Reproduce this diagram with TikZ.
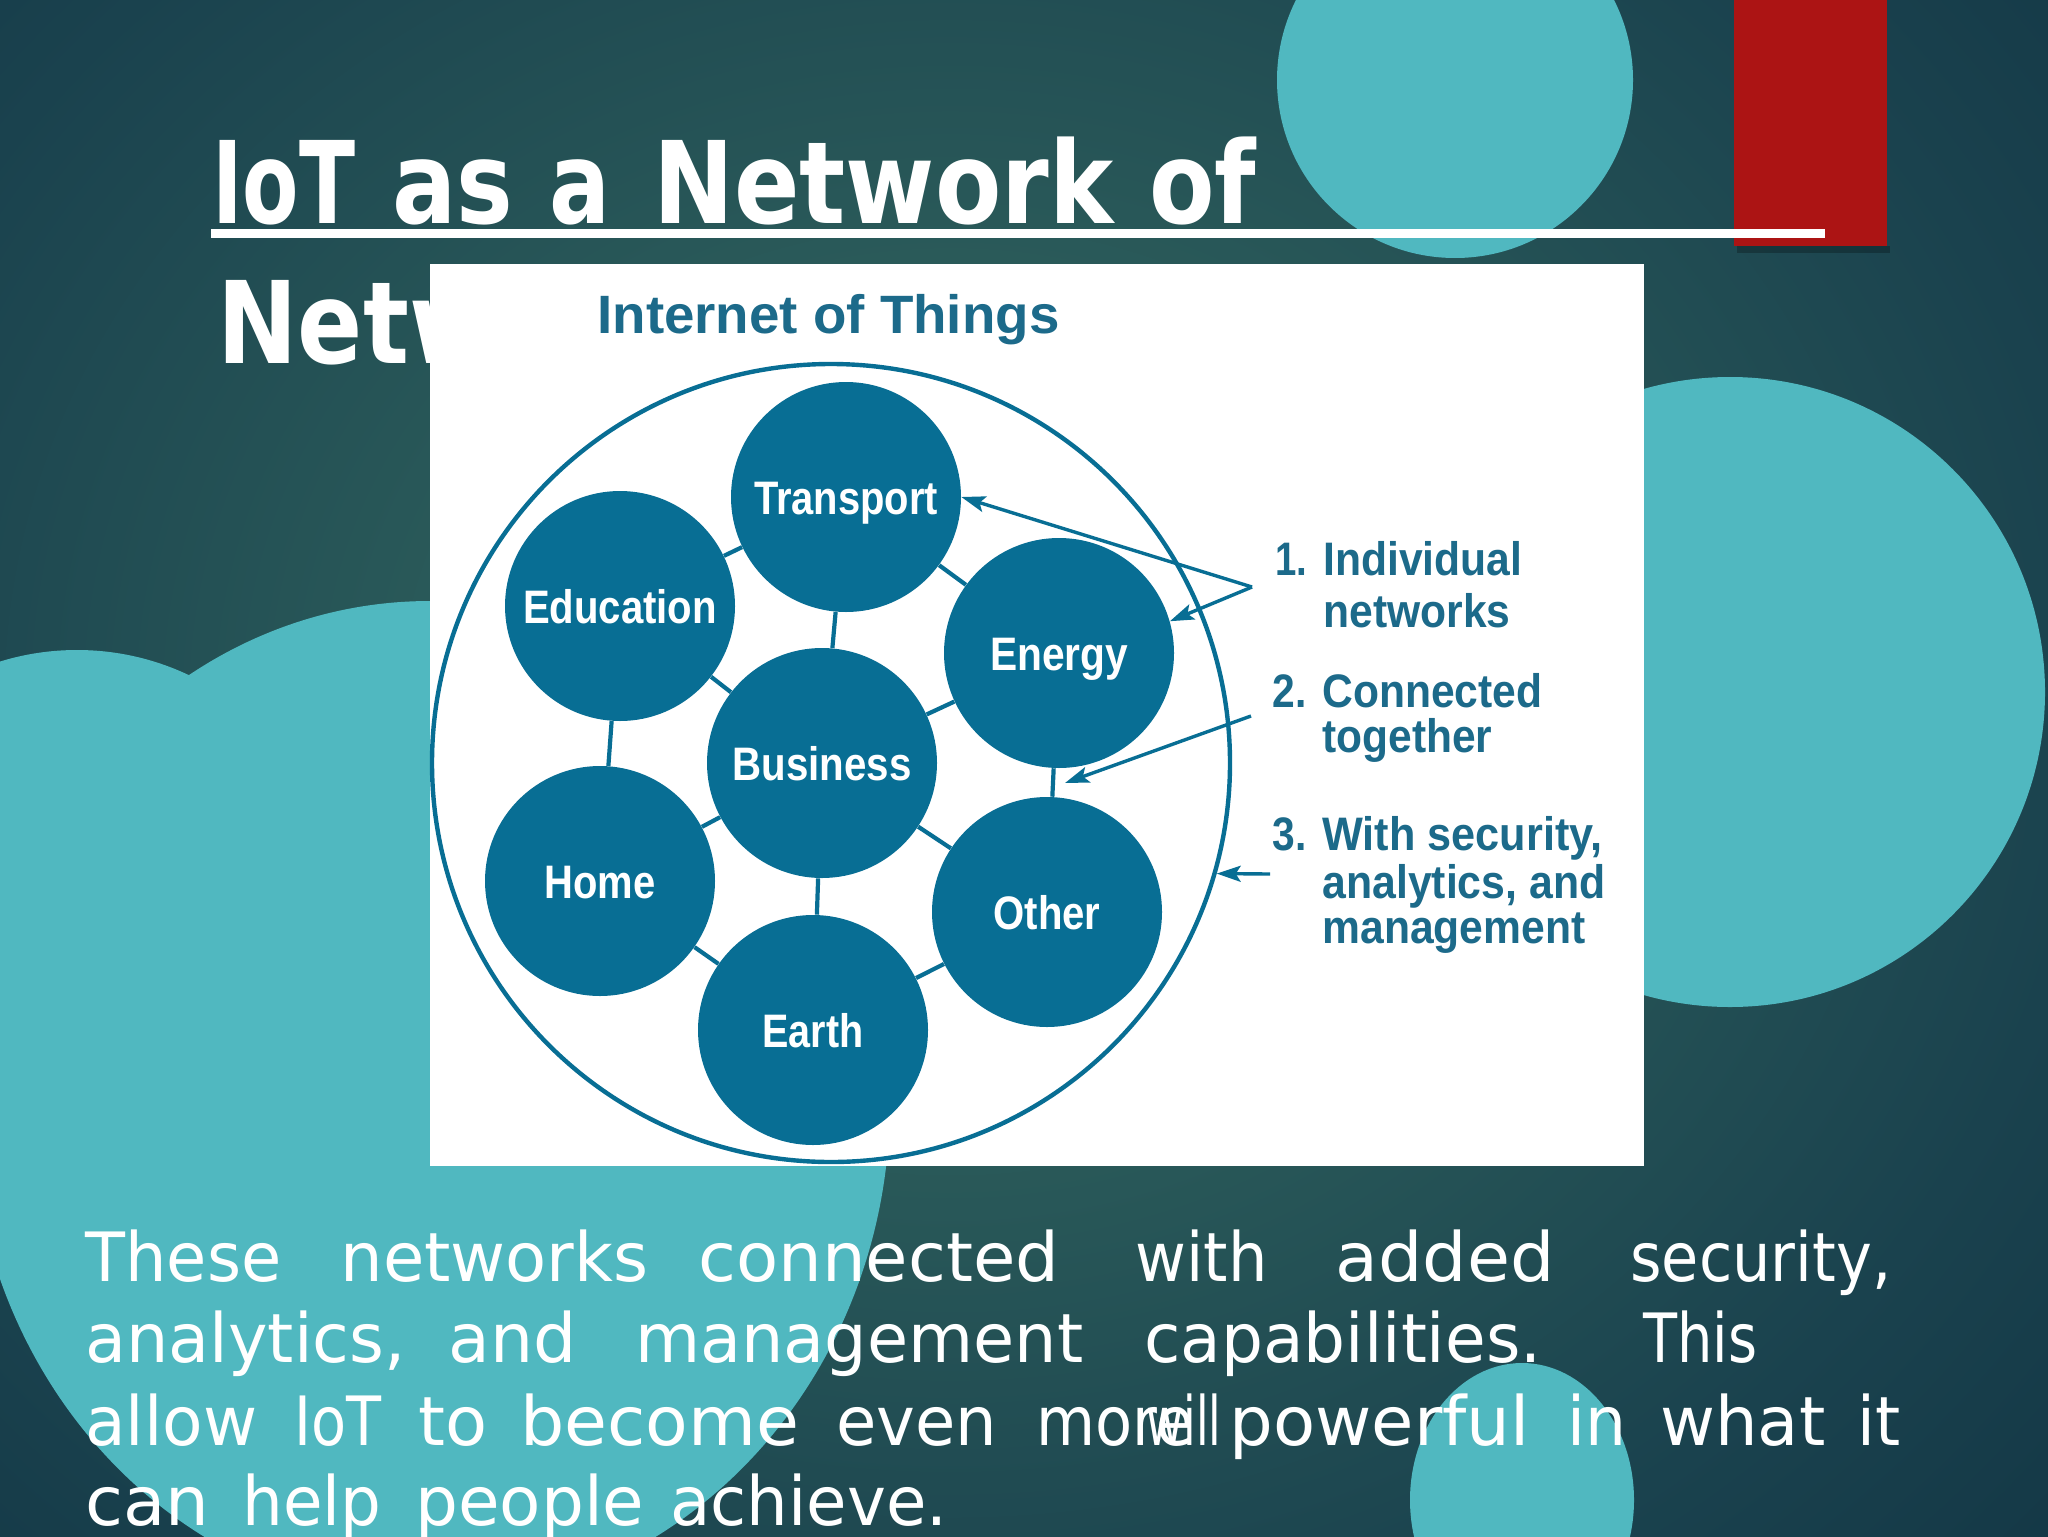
\documentclass[tikz,border=0pt]{standalone}
\usepackage{fontspec}
\usepackage{graphicx}
\usetikzlibrary{arrows.meta,calc}
\newfontfamily\djv{DejaVu Sans}
\newfontfamily\lib{Liberation Sans}
\newlength\pxu
\setlength\pxu{0.5pt}
\newcommand\fitw[2]{\resizebox{#1\pxu}{\height}{#2}}
\definecolor{bgl}{RGB}{46,96,92}
\definecolor{bgm}{RGB}{26,66,78}
\definecolor{bgd}{RGB}{13,45,62}
\definecolor{tealc}{RGB}{80,184,192}
\definecolor{redbar}{RGB}{172,20,20}
\definecolor{bub}{RGB}{8,110,148}
\definecolor{lbl}{RGB}{28,106,138}
\pgfdeclareradialshading{bgrad}{\pgfpoint{0bp}{0bp}}{color(0bp)=(bgl); color(8bp)=(bgl); color(26bp)=(bgm); color(42bp)=(bgd); color(50bp)=(bgd)}
\begin{document}
\begin{tikzpicture}[x=0.5pt,y=-0.5pt,
  bubble/.style={circle, fill=bub, minimum size=115pt, inner sep=0pt, text=white,
    font=\lib\bfseries\fontsize{23.5}{26}\selectfont, text height=17.6pt, text depth=0pt},
  conn/.style={draw=bub, line width=2.1pt},
  arr/.style={draw=bub, line width=1.7pt, -{Stealth[length=12pt,width=8pt,inset=2.5pt]}},
  side/.style={anchor=base west, inner sep=0pt, text=lbl, font=\lib\bfseries\fontsize{23.5}{26}\selectfont},
  body/.style={anchor=base west, inner sep=0pt, text=white, font=\djv\fontsize{34}{38}\selectfont},
  ttl/.style={anchor=base west, inner sep=0pt, text=white, font=\djv\bfseries\fontsize{57}{64}\selectfont}
]
\useasboundingbox (0,0) rectangle (2048,1536);
\begin{scope}
  \clip (0,0) rectangle (2048,1536);
  \shade[shading=bgrad] (-150,-250) rectangle (2050,1650);
  \fill[tealc] (1455,80) circle [radius=89pt];
  \fill[tealc] (1730,692) circle [radius=157.5pt];
  \fill[tealc] (430,1101) ellipse [x radius=230pt, y radius=250pt];
  \fill[tealc] (77,911) circle [radius=130.5pt];
  \fill[tealc] (1522,1500) ellipse [x radius=56pt, y radius=68.5pt];
  \fill[black, opacity=0.25] (1737,246) rectangle (1890,253);
  \fill[redbar] (1734,0) rectangle (1887,246);
\end{scope}

% title
\node[ttl] (t1) at (212,223) {\fitw{143}{IoT}};
\node[ttl] (t2) at (392,223) {\fitw{121}{as}};
\node[ttl] (t3) at (549,223) {\fitw{61}{a}};
\node[ttl] (t4) at (653,223) {\fitw{460}{Network}};
\node[ttl] (t5) at (1149,223) {\fitw{107}{of}};
\node[ttl] (t6) at (217,363) {\fitw{515}{Networks}};
\fill[white] (211,229) rectangle (1825,238);

% picture card
\node[fill=white, minimum width=607pt, minimum height=451pt, inner sep=0pt, anchor=north west] (card) at (430,264) {};
\node[anchor=base west, inner sep=0pt, text=lbl, font=\lib\bfseries\fontsize{27}{30}\selectfont] (iot) at (597,333) {\fitw{462}{Internet of Things}};
\node[circle, draw=bub, line width=2.2pt, minimum size=399pt, inner sep=0pt] (outer) at (831,763) {};

\node[bubble] (tr) at (846,497) {\fitw{184}{Transport}};
\node[bubble] (ed) at (620,606) {\fitw{194}{Education}};
\node[bubble] (en) at (1059,653) {\fitw{138}{Energy}};
\node[bubble] (bs) at (822,763) {\fitw{179}{Business}};
\node[bubble] (hm) at (600,881) {\fitw{111}{Home}};
\node[bubble] (ot) at (1047,912) {\fitw{107}{Other}};
\node[bubble] (ea) at (813,1030) {\fitw{101}{Earth}};

\draw[conn] (tr) -- (ed);
\draw[conn] (tr) -- (en);
\draw[conn] (tr) -- (bs);
\draw[conn] (ed) -- (bs);
\draw[conn] (ed) -- (hm);
\draw[conn] (en) -- (bs);
\draw[conn] (en) -- (ot);
\draw[conn] (bs) -- (hm);
\draw[conn] (bs) -- (ot);
\draw[conn] (bs) -- (ea);
\draw[conn] (hm) -- (ea);
\draw[conn] (ot) -- (ea);

\coordinate (ap) at (1252,587);
\coordinate (a2s) at (1251,716);
\coordinate (a2e) at (1065,783);
\coordinate (a3s) at (1270,874);
\draw[arr] (ap) -- (tr.east);
\draw[arr] (ap) -- (en.16);
\draw[arr] (a2s) -- (a2e);
\draw[arr] (a3s) -- (outer.-16);

\node[side] (n1) at (1275,575) {\fitw{32}{1.}};
\node[side] (l1a) at (1323,575) {\fitw{199}{Individual}};
\node[side] (l1b) at (1323,627) {\fitw{187}{networks}};
\node[side] (n2) at (1272,707) {\fitw{34}{2.}};
\node[side] (l2a) at (1322,707) {\fitw{220}{Connected}};
\node[side] (l2b) at (1322,752) {\fitw{170}{together}};
\node[side] (n3) at (1272,850) {\fitw{34}{3.}};
\node[side] (l3a) at (1322,850) {\fitw{280}{With security,}};
\node[side] (l3b) at (1322,898) {\fitw{283}{analytics, and}};
\node[side] (l3c) at (1322,943) {\fitw{263}{management}};

% body text
\node[body] (w11) at (85,1281) {\fitw{196}{These}};
\node[body] (w12) at (340,1281) {\fitw{308}{networks}};
\node[body] (w13) at (698,1281) {\fitw{361}{connected}};
\node[body] (w14) at (1135,1281) {\fitw{132}{with}};
\node[body] (w15) at (1335,1281) {\fitw{219}{added}};
\node[body] (w16) at (1630,1281) {\fitw{261}{security,}};
\node[body] (w21) at (85,1362) {\fitw{320}{analytics,}};
\node[body] (w22) at (448,1362) {\fitw{128}{and}};
\node[body] (w23) at (635,1362) {\fitw{448}{management}};
\node[body] (w24) at (1144,1362) {\fitw{397}{capabilities.}};
\node[body] (w25) at (1643,1362) {\fitw{114}{This}};
\node[body] (w31) at (85,1445) {\fitw{172}{allow}};
\node[body] (w32) at (294,1445) {\fitw{87}{IoT}};
\node[body] (w33) at (418,1445) {\fitw{69}{to}};
\node[body] (w34) at (520,1445) {\fitw{279}{become}};
\node[body] (w35) at (836,1445) {\fitw{161}{even}};
\node[body] (w36) at (1036,1445) {\fitw{157}{more}};
\node[body] (w37) at (1146,1445) {\fitw{75}{will}};
\node[body] (w38) at (1229,1445) {\fitw{300}{powerful}};
\node[body] (w39) at (1567,1445) {\fitw{59}{in}};
\node[body] (w3a) at (1660,1445) {\fitw{165}{what}};
\node[body] (w3b) at (1857,1445) {\fitw{43}{it}};
\node[body] (w41) at (85,1525) {\fitw{124}{can}};
\node[body] (w42) at (242,1525) {\fitw{139}{help}};
\node[body] (w43) at (415,1525) {\fitw{229}{people}};
\node[body] (w44) at (670,1525) {\fitw{277}{achieve.}};
\end{tikzpicture}
\end{document}
